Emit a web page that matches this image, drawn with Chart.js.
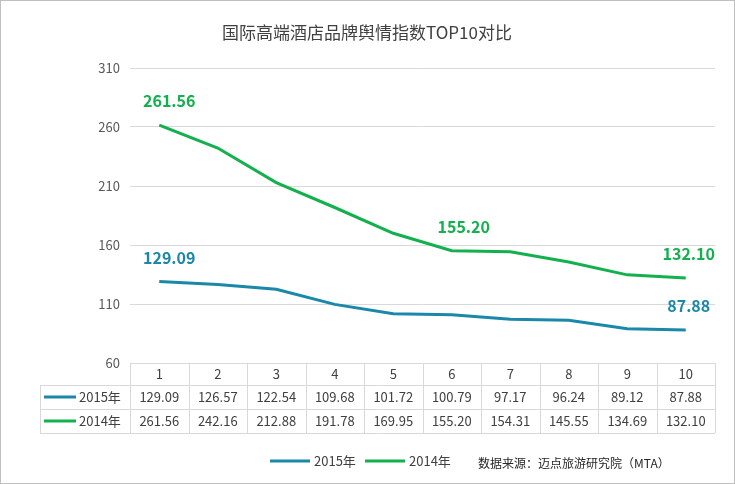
<!DOCTYPE html>
<html><head><meta charset="utf-8">
<script src="https://cdn.jsdelivr.net/npm/chart.js@4"></script>
<style>body{margin:0;background:#fff}#wrap{width:735px;height:484px}</style>
</head><body><div id="wrap"><canvas id="c"></canvas></div>
<script>
const categories = ['1','2','3','4','5','6','7','8','9','10'];
const series2015 = [129.09,126.57,122.54,109.68,101.72,100.79,97.17,96.24,89.12,87.88];
const series2014 = [261.56,242.16,212.88,191.78,169.95,155.20,154.31,145.55,134.69,132.10];
const yTicks = [60,110,160,210,260,310];
const c2015 = '#1a88a8', c2014 = '#13b04e';
const labelIdx2015 = [0,9], labelIdx2014 = [0,5,9];
const font = '"Microsoft YaHei","Noto Sans CJK SC",sans-serif';

const tablePlugin = {
  id: 'table',
  afterDraw(chart) {
    const {ctx, chartArea: a, scales: {x}} = chart;
    const top = a.bottom, rows = [top, top + 22, top + 46, top + 70], left = 40;
    const colW = (a.right - a.left) / categories.length;
    ctx.save();
    // outer frame
    ctx.strokeStyle = '#bfbfbf'; ctx.lineWidth = 1;
    ctx.strokeRect(0.5, 0.5, chart.width - 1, chart.height - 1);
    ctx.strokeStyle = '#d9d9d9';
    ctx.beginPath();
    rows.slice(1).forEach(y => { ctx.moveTo(left, y + .5); ctx.lineTo(a.right, y + .5); });
    ctx.moveTo(left + .5, rows[1]); ctx.lineTo(left + .5, rows[3]);
    for (let i = 0; i <= categories.length; i++) {
      const xx = Math.round(a.left + i * colW) + .5;
      ctx.moveTo(xx, rows[0]); ctx.lineTo(xx, rows[3]);
    }
    ctx.stroke();
    ctx.fillStyle = '#404040'; ctx.textAlign = 'center'; ctx.textBaseline = 'middle';
    ctx.font = '13px ' + font;
    categories.forEach((c, i) => {
      const cx = x.getPixelForValue(i);
      ctx.fillText(c, cx, (rows[0] + rows[1]) / 2);
      ctx.fillText(series2015[i].toFixed(2), cx, (rows[1] + rows[2]) / 2);
      ctx.fillText(series2014[i].toFixed(2), cx, (rows[2] + rows[3]) / 2);
    });
    [[c2015, '2015年', rows[1]], [c2014, '2014年', rows[2]]].forEach(([col, t, y]) => {
      const my = y + 12;
      ctx.strokeStyle = col; ctx.lineWidth = 3;
      ctx.beginPath(); ctx.moveTo(44, my); ctx.lineTo(76, my); ctx.stroke();
      ctx.fillStyle = '#404040'; ctx.textAlign = 'left';
      ctx.fillText(t, 79, my);
    });
    // title
    ctx.textAlign = 'center'; ctx.fillStyle = '#404040';
    ctx.font = '17px ' + font;
    ctx.fillText('国际高端酒店品牌舆情指数TOP10对比', 367, 33);
    // legend
    ctx.font = '13px ' + font; ctx.textAlign = 'left';
    [[c2015, '2015年', 270], [c2014, '2014年', 365]].forEach(([col, t, lx]) => {
      ctx.strokeStyle = col; ctx.lineWidth = 3;
      ctx.beginPath(); ctx.moveTo(lx, 461); ctx.lineTo(lx + 40, 461); ctx.stroke();
      ctx.fillText(t, lx + 44, 461);
    });
    ctx.fillStyle = '#262626'; ctx.font = '12px ' + font;
    ctx.fillText('数据来源：迈点旅游研究院（MTA）', 478, 463);
    // value labels
    ctx.font = 'bold 16px ' + font; ctx.textAlign = 'center';
    [[0, labelIdx2015, series2015, c2015], [1, labelIdx2014, series2014, c2014]].forEach(([di, idx, data, col]) => {
      const meta = chart.getDatasetMeta(di);
      ctx.fillStyle = col;
      idx.forEach(i => {
        const p = meta.data[i];
        const dx = i === 0 ? 10 : (i === 9 ? 3 : 12);
        ctx.fillText(data[i].toFixed(2), p.x + dx, p.y - 24);
      });
    });
    ctx.restore();
  }
};

new Chart(document.getElementById('c'), {
  type: 'line',
  data: {
    labels: categories,
    datasets: [
      {label: '2015年', data: series2015, borderColor: c2015, borderWidth: 3, pointRadius: 0, tension: 0},
      {label: '2014年', data: series2014, borderColor: c2014, borderWidth: 3, pointRadius: 0, tension: 0}
    ]
  },
  options: {
    responsive: true, maintainAspectRatio: false, animation: false,
    layout: {padding: {top: 68, bottom: 121, right: 20, left: 0}},
    plugins: {legend: {display: false}, tooltip: {enabled: false}},
    scales: {
      x: {display: false, offset: true},
      y: {
        min: 60, max: 310,
        afterBuildTicks: s => { s.ticks = yTicks.map(v => ({value: v})); },
        afterFit: s => { s.width = 130; },
        border: {display: false},
        grid: {color: '#d9d9d9', drawTicks: false},
        ticks: {color: '#595959', padding: 10, font: {size: 13, family: font}}
      }
    }
  },
  plugins: [tablePlugin]
});
</script></body></html>
